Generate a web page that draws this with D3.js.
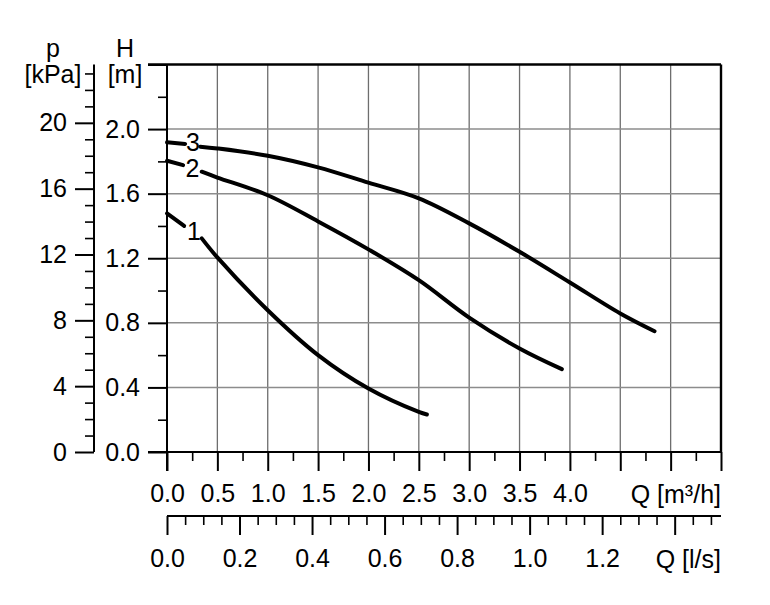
<!DOCTYPE html>
<html>
<head>
<meta charset="utf-8">
<script src="https://cdn.jsdelivr.net/npm/d3@7/dist/d3.min.js"></script>
<style>
  html, body { margin: 0; padding: 0; background: #fff; }
  svg { display: block; }
  text { font-family: "Liberation Sans", Arial, sans-serif; font-size: 25px; fill: #000; }
</style>
</head>
<body>
<svg id="chart" width="770" height="605"></svg>
<script>
// ---- Data ----
const curveNames = ["1", "2", "3"];
// Q [m³/h]
const curve1Q = [0, 0.17, 0.345, 0.5, 1.0, 1.5, 2.0, 2.5, 2.58];
const curve1H = [1.478, 1.40, 1.323, 1.205, 0.878, 0.600, 0.393, 0.248, 0.232];
const curve2Q = [0, 0.16, 0.345, 0.5, 1.0, 1.5, 2.0, 2.5, 3.0, 3.5, 3.92];
const curve2H = [1.804, 1.777, 1.736, 1.70, 1.590, 1.428, 1.255, 1.064, 0.832, 0.641, 0.513];
const curve3Q = [0, 0.18, 0.33, 0.5, 1.0, 1.5, 2.0, 2.5, 3.0, 3.5, 4.0, 4.5, 4.84];
const curve3H = [1.918, 1.908, 1.891, 1.880, 1.835, 1.763, 1.668, 1.571, 1.416, 1.240, 1.050, 0.858, 0.748];
// label positions (data units) where the curve is interrupted
const labelQ = [0.268, 0.253, 0.258];
const labelH = [1.367, 1.756, 1.917];
const gapStartQ = [0.17, 0.16, 0.18];
const gapEndQ = [0.345, 0.345, 0.33];

const hMajor = [0, 0.4, 0.8, 1.2, 1.6, 2.0, 2.4];
const hLabels = ["0.0", "0.4", "0.8", "1.2", "1.6", "2.0", ""];
const hMinor = [0.2, 0.6, 1.0, 1.4, 1.8, 2.2];
const pMajor = [0, 4, 8, 12, 16, 20];
const pMinor = [1, 2, 3, 5, 6, 7, 9, 10, 11, 13, 14, 15, 17, 18, 19, 21, 22, 23];
const qMajor = [0, 0.5, 1.0, 1.5, 2.0, 2.5, 3.0, 3.5, 4.0, 4.5, 5.0, 5.5];
const qLabels = ["0.0", "0.5", "1.0", "1.5", "2.0", "2.5", "3.0", "3.5", "4.0", "", "", ""];
const qMinor = [0.25, 0.75, 1.25, 1.75, 2.25, 2.75, 3.25, 3.75, 4.25, 4.75, 5.25];
const lMajor = [0, 0.2, 0.4, 0.6, 0.8, 1.0, 1.2, 1.4];
const lLabels = ["0.0", "0.2", "0.4", "0.6", "0.8", "1.0", "1.2", ""];
const lMinor = [0.05, 0.1, 0.15, 0.25, 0.3, 0.35, 0.45, 0.5, 0.55, 0.65, 0.7, 0.75,
                0.85, 0.9, 0.95, 1.05, 1.1, 1.15, 1.25, 1.3, 1.35, 1.45, 1.5];
const qMax = 5.5, hMax = 2.4, kPaPerM = 9.81, m3hPerLs = 3.6;

// ---- Scales ----
const svg = d3.select("#chart");
const xQ = d3.scaleLinear([0, qMax], [167, 721]);
const xL = d3.scaleLinear([0, qMax / m3hPerLs], [167, 721]);
const yH = d3.scaleLinear([0, hMax], [452, 64.5]);
const yP = d3.scaleLinear([0, hMax * kPaPerM], [452, 64.5]);

// ---- Grid ----
const grid = svg.append("g");
grid.selectAll("line.v").data(qMajor.filter(q => q > 0 && q < qMax)).join("line")
  .attr("x1", d => xQ(d)).attr("x2", d => xQ(d))
  .attr("y1", yH(hMax)).attr("y2", yH(0))
  .attr("stroke", "#6e6e6e").attr("stroke-width", 1.3);
grid.selectAll("line.h").data(hMajor.filter(h => h > 0 && h < hMax)).join("line")
  .attr("x1", xQ(0)).attr("x2", xQ(qMax))
  .attr("y1", d => yH(d)).attr("y2", d => yH(d))
  .attr("stroke", "#8c8c8c").attr("stroke-width", 1.5);

function styleAxis(g, w) {
  g.select(".domain").remove();
  g.selectAll(".tick line").attr("stroke", "#000").attr("stroke-width", w);
  g.selectAll(".tick text").style("font-size", "25px").attr("fill", "#000");
}

// ---- H axis ----
const gH = svg.append("g").attr("transform", `translate(${xQ(0)},0)`);
gH.call(d3.axisLeft(yH).tickValues(hMajor).tickSize(19).tickPadding(8)
  .tickFormat((d, i) => hLabels[i]));
styleAxis(gH, 2);
const gHm = svg.append("g").attr("transform", `translate(${xQ(0)},0)`);
gHm.call(d3.axisLeft(yH).tickValues(hMinor).tickSize(9).tickFormat(""));
styleAxis(gHm, 1.6);

// ---- p axis ----
const pX = 94;
const gP = svg.append("g").attr("transform", `translate(${pX},0)`);
gP.call(d3.axisLeft(yP).tickValues(pMajor).tickSize(19).tickPadding(8).tickFormat(d3.format("d")));
styleAxis(gP, 2);
const gPm = svg.append("g").attr("transform", `translate(${pX},0)`);
gPm.call(d3.axisLeft(yP).tickValues(pMinor).tickSize(9).tickFormat(""));
styleAxis(gPm, 1.6);

// ---- Q m³/h axis ----
const gQ = svg.append("g").attr("transform", `translate(0,${yH(0)})`);
gQ.call(d3.axisBottom(xQ).tickValues(qMajor).tickSize(19).tickPadding(13)
  .tickFormat((d, i) => qLabels[i]));
styleAxis(gQ, 2);
const gQm = svg.append("g").attr("transform", `translate(0,${yH(0)})`);
gQm.call(d3.axisBottom(xQ).tickValues(qMinor).tickSize(9).tickFormat(""));
styleAxis(gQm, 1.6);

// ---- Q l/s axis ----
const lY = 516;
const gL = svg.append("g").attr("transform", `translate(0,${lY})`);
gL.call(d3.axisBottom(xL).tickValues(lMajor).tickSize(19).tickPadding(14)
  .tickFormat((d, i) => lLabels[i]));
styleAxis(gL, 2);
const gLm = svg.append("g").attr("transform", `translate(0,${lY})`);
gLm.call(d3.axisBottom(xL).tickValues(lMinor).tickSize(9).tickFormat(""));
styleAxis(gLm, 1.6);

// ---- Axis lines / frame ----
const frame = svg.append("g").attr("stroke", "#000").attr("stroke-width", 2).attr("fill", "none");
frame.append("line").attr("x1", xQ(0)).attr("x2", xQ(0)).attr("y1", yH(hMax)).attr("y2", yH(0) + 19);
frame.append("line").attr("x1", pX).attr("x2", pX).attr("y1", yP(hMax * kPaPerM)).attr("y2", yP(0));
frame.append("line").attr("x1", xQ(0) - 19).attr("x2", xQ(qMax)).attr("y1", yH(0)).attr("y2", yH(0));
frame.append("line").attr("x1", xQ(0) - 19).attr("x2", xQ(qMax)).attr("y1", yH(hMax)).attr("y2", yH(hMax)).attr("stroke-width", 2.4);
frame.append("line").attr("x1", xQ(qMax)).attr("x2", xQ(qMax)).attr("y1", yH(hMax)).attr("y2", yH(0)).attr("stroke-width", 2.4);
frame.append("line").attr("x1", xL(0)).attr("x2", xL(qMax / m3hPerLs)).attr("y1", lY).attr("y2", lY);

// ---- Axis titles ----
svg.append("text").attr("x", xQ(qMax)).attr("y", 502.5).attr("text-anchor", "end").text("Q [m³/h]");
svg.append("text").attr("x", xQ(qMax)).attr("y", 567.5).attr("text-anchor", "end").text("Q [l/s]");
svg.append("text").attr("x", 53).attr("y", 57).attr("text-anchor", "middle").text("p");
svg.append("text").attr("x", 53).attr("y", 83).attr("text-anchor", "middle").text("[kPa]");
svg.append("text").attr("x", 125).attr("y", 57).attr("text-anchor", "middle").text("H");
svg.append("text").attr("x", 125).attr("y", 83).attr("text-anchor", "middle").text("[m]");

// ---- Curves ----
const line = d3.line().x(d => xQ(d[0])).y(d => yH(d[1])).curve(d3.curveCatmullRom.alpha(0.5));
const curves = [[curve1Q, curve1H], [curve2Q, curve2H], [curve3Q, curve3H]];
const cg = svg.append("g").attr("fill", "none").attr("stroke", "#000")
  .attr("stroke-width", 4).attr("stroke-linecap", "round").attr("stroke-linejoin", "round");
curves.forEach(([qs, hs], i) => {
  const pts = qs.map((q, j) => [q, hs[j]]);
  const a = pts.filter(p => p[0] <= gapStartQ[i] + 1e-9);
  const b = pts.filter(p => p[0] >= gapEndQ[i] - 1e-9);
  cg.append("path").attr("d", line(a));
  cg.append("path").attr("d", line(b));
  svg.append("text").attr("x", xQ(labelQ[i])).attr("y", yH(labelH[i]))
    .attr("dy", "0.36em").attr("text-anchor", "middle").text(curveNames[i]);
});
</script>
</body>
</html>
